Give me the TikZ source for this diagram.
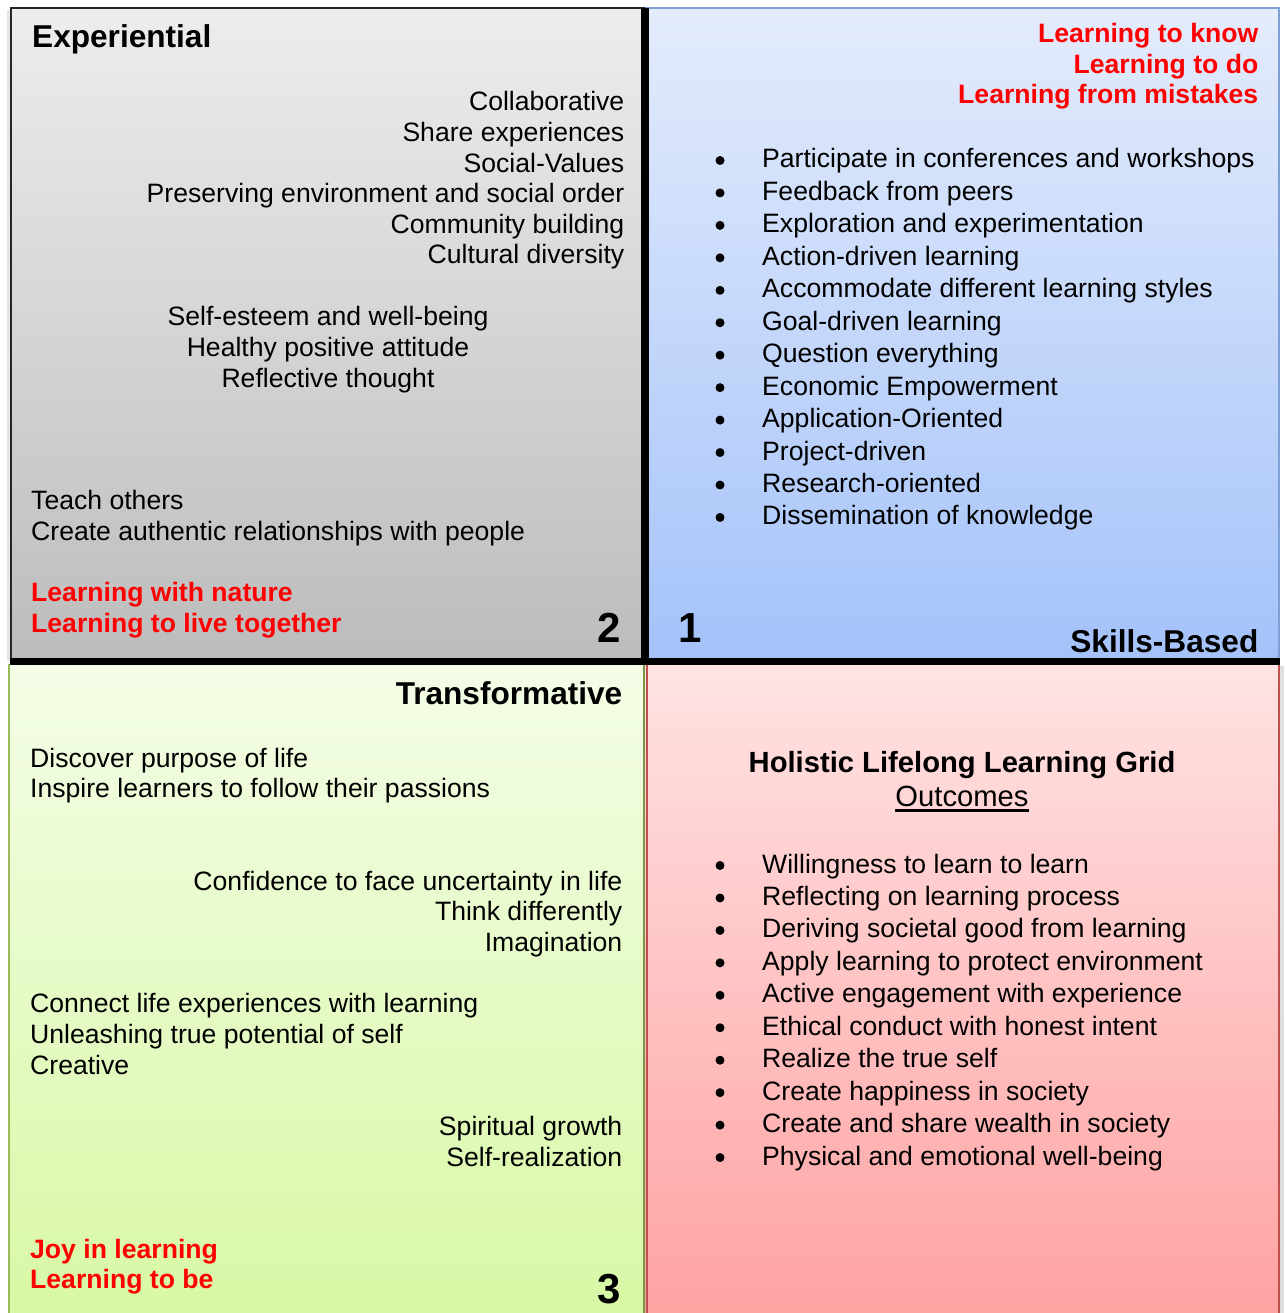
\documentclass[tikz,border=0pt]{standalone}
\usepackage{fontspec}
\setmainfont{Liberation Sans}
\newcommand{\bodyfont}{\fontsize{26.6}{30.6}\selectfont}
\newcommand{\headfont}{\fontsize{31.6}{36}\selectfont\bfseries}
\newcommand{\titlesize}{\fontsize{29.2}{33}\selectfont}
\newcommand{\numfont}{\fontsize{42}{46}\selectfont\bfseries}
\definecolor{grayTop}{HTML}{EDEDED}
\definecolor{grayBot}{HTML}{BCBCBC}
\definecolor{blueTop}{HTML}{E4ECFB}
\definecolor{blueBot}{HTML}{A4C2FA}
\definecolor{greenTop}{HTML}{F4FDE7}
\definecolor{greenBot}{HTML}{D8F8A5}
\definecolor{redTop}{HTML}{FFE3E3}
\definecolor{redBot}{HTML}{FFA2A2}
\definecolor{blueEdge}{HTML}{7FA0D6}
\definecolor{greenEdge}{HTML}{9BBB59}
\definecolor{redEdge}{HTML}{C0504D}
\definecolor{hot}{HTML}{FF0000}
\begin{document}
\begin{tikzpicture}[x=1pt,y=-1pt,
  txtL/.style={font=\bodyfont, inner sep=0, anchor=base west},
  txtR/.style={font=\bodyfont, inner sep=0, anchor=base east},
  txtC/.style={font=\bodyfont, inner sep=0, anchor=base},
  hotL/.style={font=\bodyfont\bfseries, text=hot, inner sep=0, anchor=base west},
  hotR/.style={font=\bodyfont\bfseries, text=hot, inner sep=0, anchor=base east},
  headL/.style={font=\headfont, inner sep=0, anchor=base west},
  headR/.style={font=\headfont, inner sep=0, anchor=base east},
  numL/.style={font=\numfont, inner sep=0, anchor=base west},
  numR/.style={font=\numfont, inner sep=0, anchor=base east},
  dot/.style={circle, fill=black, inner sep=0, minimum size=9pt},
]
\useasboundingbox (0,0) rectangle (1285,1313);
\fill[white] (0,0) rectangle (1285,1313);

% soft shadows behind the quadrants
\fill[black!12] (1280,666) rectangle (1284,1313);
\fill[black!10] (7,10) rectangle (10,661);

% lower quadrants
\shade[top color=greenTop, bottom color=greenBot] (8,663) rectangle (645,1316);
\draw[greenEdge, line width=2] (9,664) -- (9,1316);
\draw[greenEdge!80!black, line width=1.5] (644,664) -- (644,1316);
\shade[top color=redTop, bottom color=redBot] (645,663) rectangle (1280,1316);
\draw[redEdge, line width=2] (646.5,664) -- (646.5,1316);
\draw[redEdge, line width=2] (1279,664) -- (1279,1316);

% upper quadrants
\shade[top color=grayTop, bottom color=grayBot] (10,8) rectangle (645,661);
\draw[black!85, line width=2] (11,661) -- (11,8.5) -- (645,8.5);
\shade[top color=blueTop, bottom color=blueBot] (645,8) rectangle (1279,661);
\draw[blueEdge, line width=2] (645,8.5) -- (1278.5,8.5) -- (1278.5,661);

% heavy dividers
\draw[black, line width=8] (645,8) -- (645,661);
\draw[black, line width=7] (10,661.5) -- (1280,661.5);

% ---- Experiential (2) ----
\node[headL] (exp) at (32,48) {Experiential};
\foreach \t [count=\i] in {Collaborative, Share experiences, Social-Values,
  Preserving environment and social order, Community building, Cultural diversity}
  \node[txtR] (e\i) at (624.5,{111+30.6*(\i-1)}) {\t};
\node[txtC] (s1) at (328,325) {Self-esteem and well-being};
\node[txtC] (s2) at (328,356) {Healthy positive attitude};
\node[txtC] (s3) at (328,387) {Reflective thought};
\node[txtL] (t1) at (31,509) {Teach others};
\node[txtL] (t2) at (31,540) {Create authentic relationships with people};
\node[hotL] (r1) at (31,601) {Learning with nature};
\node[hotL] (r2) at (31,632) {Learning to live together};
\node[numR] (n2) at (621,642) {2};

% ---- Skills-Based (1) ----
\node[hotR] (k1) at (1258.5,43) {Learning to know};
\node[hotR] (k2) at (1258.5,74) {Learning to do};
\node[hotR] (k3) at (1258.5,104) {Learning from mistakes};
\foreach \t [count=\i] in {Participate in conferences and workshops,
  Feedback from peers, Exploration and experimentation, Action-driven learning,
  Accommodate different learning styles, Goal-driven learning,
  Question everything, Economic Empowerment, Application-Oriented,
  Project-driven, Research-oriented, Dissemination of knowledge}
{
  \node[dot] (bd\i) at (720,{160.5+32.45*(\i-1)}) {};
  \node[txtL] (bt\i) at (762,{168+32.45*(\i-1)}) {\t};
}
\node[numL] (n1) at (678,642) {1};
\node[headR] (skb) at (1258.5,652) {Skills-Based};

% ---- Transformative (3) ----
\node[headR] (trf) at (622.5,704) {Transformative};
\node[txtL] (p1) at (30,767) {Discover purpose of life};
\node[txtL] (p2) at (30,797) {Inspire learners to follow their passions};
\node[txtR] (c1) at (622.5,890) {Confidence to face uncertainty in life};
\node[txtR] (c2) at (622.5,920) {Think differently};
\node[txtR] (c3) at (622.5,951) {Imagination};
\node[txtL] (l1) at (30,1012) {Connect life experiences with learning};
\node[txtL] (l2) at (30,1043) {Unleashing true potential of self};
\node[txtL] (l3) at (30,1074) {Creative};
\node[txtR] (g1) at (622.5,1135) {Spiritual growth};
\node[txtR] (g2) at (622.5,1166) {Self-realization};
\node[hotL] (j1) at (30,1258) {Joy in learning};
\node[hotL] (j2) at (30,1288) {Learning to be};
\node[numR] (n3) at (621,1303) {3};

% ---- Outcomes ----
\node[font=\titlesize\bfseries, inner sep=0, anchor=base] (ttl) at (962,772) {Holistic Lifelong Learning Grid};
\node[font=\titlesize, inner sep=0, anchor=base] (oc) at (962,806) {Outcomes};
\draw[line width=2.2] ([yshift=-4.5pt]oc.base west) -- ([yshift=-4.5pt]oc.base east);
\foreach \t [count=\i] in {Willingness to learn to learn,
  Reflecting on learning process, Deriving societal good from learning,
  Apply learning to protect environment, Active engagement with experience,
  Ethical conduct with honest intent, Realize the true self,
  Create happiness in society, Create and share wealth in society,
  Physical and emotional well-being}
{
  \node[dot] (od\i) at (720,{865.5+32.45*(\i-1)}) {};
  \node[txtL] (ot\i) at (762,{873+32.45*(\i-1)}) {\t};
}
\end{tikzpicture}
\end{document}
